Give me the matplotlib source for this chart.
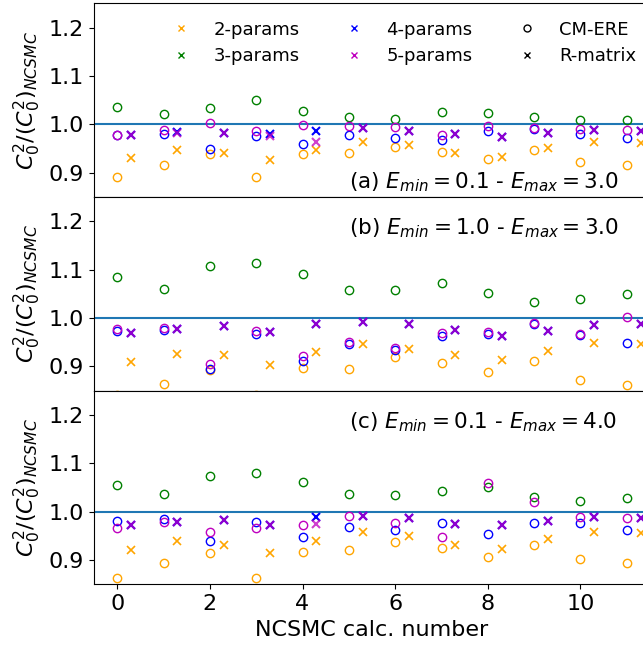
import numpy as np
import matplotlib
matplotlib.use("Agg")
import matplotlib.pyplot as plt
from matplotlib.lines import Line2D

calc = np.arange(12)

# Panel (a): Emin=0.1, Emax=3.0
a_ere_2 = [0.891, 0.917, 0.939, 0.891, 0.939, 0.940, 0.954, 0.943, 0.928, 0.948, 0.923, 0.915]
a_ere_3 = [1.036, 1.021, 1.033, 1.051, 1.027, 1.016, 1.012, 1.026, 1.023, 1.015, 1.009, 1.009]
a_ere_4 = [0.977, 0.980, 0.950, 0.975, 0.959, 0.977, 0.971, 0.967, 0.987, 0.990, 0.980, 0.972]
a_ere_5 = [0.978, 0.989, 1.002, 0.986, 0.999, 0.997, 0.995, 0.977, 0.996, 0.992, 0.990, 0.988]
a_rm_2 = [0.930, 0.946, 0.941, 0.926, 0.948, 0.964, 0.957, 0.940, 0.933, 0.951, 0.964, 0.961]
a_rm_4 = [0.977, 0.984, 0.983, 0.980, 0.987, 0.992, 0.987, 0.980, 0.974, 0.983, 0.989, 0.986]
a_rm_5 = [0.977, 0.982, 0.983, 0.976, 0.963, 0.992, 0.987, 0.980, 0.974, 0.983, 0.989, 0.986]

# Panel (b): Emin=1.0, Emax=3.0
b_ere_2 = [0.840, 0.864, 0.893, 0.840, 0.897, 0.895, 0.920, 0.908, 0.888, 0.912, 0.872, 0.861]
b_ere_3 = [1.085, 1.060, 1.108, 1.113, 1.091, 1.058, 1.058, 1.072, 1.052, 1.034, 1.040, 1.050]
b_ere_4 = [0.973, 0.976, 0.894, 0.968, 0.912, 0.946, 0.934, 0.963, 0.968, 0.987, 0.965, 0.948]
b_ere_5 = [0.977, 0.980, 0.905, 0.974, 0.921, 0.951, 0.939, 0.970, 0.972, 0.989, 0.968, 1.003]
b_rm_2 = [0.910, 0.926, 0.923, 0.902, 0.930, 0.946, 0.937, 0.923, 0.914, 0.932, 0.948, 0.946]
b_rm_4 = [0.970, 0.977, 0.984, 0.971, 0.987, 0.992, 0.987, 0.975, 0.963, 0.974, 0.986, 0.987]
b_rm_5 = [0.970, 0.977, 0.984, 0.971, 0.987, 0.992, 0.987, 0.975, 0.963, 0.974, 0.986, 0.987]

# Panel (c): Emin=0.1, Emax=4.0
c_ere_2 = [0.862, 0.893, 0.915, 0.862, 0.916, 0.920, 0.937, 0.925, 0.906, 0.932, 0.903, 0.893]
c_ere_3 = [1.056, 1.037, 1.073, 1.079, 1.061, 1.037, 1.034, 1.043, 1.050, 1.030, 1.023, 1.028]
c_ere_4 = [0.981, 0.985, 0.939, 0.979, 0.947, 0.968, 0.963, 0.976, 0.953, 0.977, 0.976, 0.963]
c_ere_5 = [0.966, 0.978, 0.959, 0.966, 0.973, 0.992, 0.976, 0.947, 1.060, 1.021, 0.988, 0.986]
c_rm_2 = [0.921, 0.939, 0.932, 0.914, 0.939, 0.957, 0.949, 0.932, 0.923, 0.943, 0.959, 0.955]
c_rm_4 = [0.972, 0.979, 0.983, 0.973, 0.988, 0.992, 0.987, 0.975, 0.972, 0.981, 0.988, 0.987]
c_rm_5 = [0.972, 0.979, 0.983, 0.973, 0.974, 0.992, 0.987, 0.975, 0.972, 0.981, 0.988, 0.987]

panel_labels = [r"(a) $E_{min} = 0.1$ - $E_{max} = 3.0$",
                r"(b) $E_{min} = 1.0$ - $E_{max} = 3.0$",
                r"(c) $E_{min} = 0.1$ - $E_{max} = 4.0$"]
panel_label_y = [0.88, 1.186, 1.184]

param_names = ["2-params", "3-params", "4-params", "5-params"]
param_colors = ["orange", "green", "blue", "m"]

panels = [
    (a_ere_2, a_ere_3, a_ere_4, a_ere_5, a_rm_2, a_rm_4, a_rm_5),
    (b_ere_2, b_ere_3, b_ere_4, b_ere_5, b_rm_2, b_rm_4, b_rm_5),
    (c_ere_2, c_ere_3, c_ere_4, c_ere_5, c_rm_2, c_rm_4, c_rm_5),
]

W, H = 643, 648
fig = plt.figure(figsize=(W / 100, H / 100), dpi=100)

left_px, right_px = 94, 650
top_px, bot_px = 3.3, 584.3
ph = (bot_px - top_px) / 3

axes = []
for i in range(3):
    ptop = top_px + i * ph
    ax = fig.add_axes([left_px / W, 1 - (ptop + ph) / H, (right_px - left_px) / W, ph / H])
    axes.append(ax)

ms = 6
for i, ax in enumerate(axes):
    e2, e3, e4, e5, r2, r4, r5 = panels[i]
    ax.axhline(1.0, color="C0", lw=1.5, zorder=1)
    ax.plot(calc, e2, "o", mfc="none", mec="orange", ms=ms, zorder=2)
    ax.plot(calc, e3, "o", mfc="none", mec="green", ms=ms, zorder=2)
    ax.plot(calc, e4, "o", mfc="none", mec="blue", ms=ms, zorder=2)
    ax.plot(calc, e5, "o", mfc="none", mec="m", ms=ms, zorder=2)
    ax.plot(calc + 0.3, r2, "x", color="orange", ms=ms, mew=1.2, zorder=2)
    ax.plot(calc + 0.3, r4, "x", color="blue", ms=ms, mew=1.5, zorder=2)
    ax.plot(calc + 0.3, r5, "x", color="m", ms=ms, mew=1.5, alpha=0.75, zorder=2)
    ax.set_xlim(-0.5, 11.5)
    ax.set_ylim(0.85, 1.25)
    ax.set_yticks([0.9, 1.0, 1.1, 1.2])
    ax.set_xticks([0, 2, 4, 6, 8, 10])
    ax.tick_params(labelsize=16)
    ax.set_ylabel(r"$C_0^2/(C_0^2)_{NCSMC}$", fontsize=16)
    ax.text(5.0, panel_label_y[i], panel_labels[i], fontsize=15.5, ha="left", va="center")
    if i < 2:
        ax.tick_params(labelbottom=False)

axes[2].set_xlabel("NCSMC calc. number", fontsize=16)

handles = []
labels = []
for n, c in zip(param_names, param_colors):
    handles.append(Line2D([], [], ls="none", marker="x", color=c, ms=5))
    labels.append(n)
handles.append(Line2D([], [], ls="none", marker="o", mfc="none", mec="k", ms=5))
labels.append("CM-ERE")
handles.append(Line2D([], [], ls="none", marker="x", color="k", ms=5))
labels.append("R-matrix")
axes[0].legend(handles, labels, ncol=3, frameon=False, fontsize=13,
               loc="upper left", bbox_to_anchor=(0.095, 0.994),
               columnspacing=2.0, handletextpad=0.8, labelspacing=0.47)

fig.savefig("out.png", dpi=100)
